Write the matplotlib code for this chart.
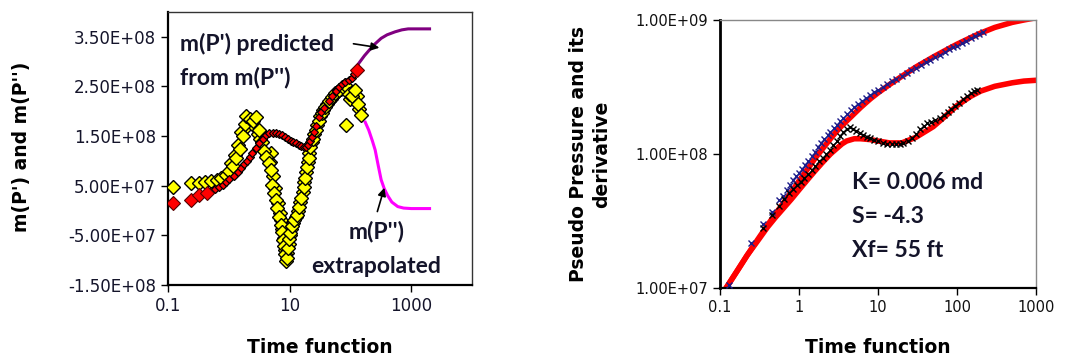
import matplotlib.pyplot as plt

# ---- left panel: m(P') and m(P'') vs time function ----
t_dp = [0.12, 0.24, 0.32, 0.40, 0.50, 0.63, 0.75, 0.9, 1.0, 1.15, 1.3, 1.5, 1.7,
        1.85, 1.95, 2.2, 2.5, 2.8, 3.1, 3.5, 3.8, 4.1, 4.5, 4.9, 5.2, 5.6, 5.9,
        6.3, 6.7, 7.1, 7.5, 7.8, 8.1, 8.4, 8.7, 9.0, 9.4, 9.7, 10.3, 11, 12, 13,
        14.3, 15.5, 17.1, 18, 19.3, 20.5, 22, 24, 26.7, 30, 34, 38, 44, 50, 56,
        65, 75, 82, 85, 95, 105, 120, 135, 150]
m_dp = [0.48, 0.56, 0.56, 0.57, 0.59, 0.62, 0.66, 0.72, 0.80, 0.90, 1.05, 1.25,
        1.50, 1.75, 1.90, 1.85, 1.80, 1.88, 1.62, 1.38, 1.20, 1.08, 0.95, 0.82,
        0.52, 0.35, 0.22, 0.05, -0.12, -0.30, -0.44, -0.60, -0.72, -0.88, -1.02,
        -0.95, -0.75, -0.58, -0.45, -0.32, -0.20, -0.08, 0.08, 0.25, 0.48, 0.65,
        0.88, 1.05, 1.28, 1.45, 1.62, 1.80, 1.96, 2.08, 2.20, 2.28, 2.36, 2.42,
        2.48, 2.52, 1.72, 2.35, 2.30, 2.42, 2.15, 1.92]
# repeat readings scattered around the main m(P'') trend
t_dp2 = [1.1, 1.25, 1.4, 1.6, 2.0, 2.3, 2.6, 3.0, 3.3, 4.3, 4.7, 5.0, 5.4, 5.8,
         6.5, 6.9, 7.3, 7.6, 8.0, 8.5, 9.2, 9.6, 10, 10.7, 11.5, 12.5, 13.5,
         14.8, 16.3, 17.5, 18.6, 20, 21.2, 23, 25, 28, 32, 36, 41, 47, 53, 60,
         70, 100, 110, 128, 140]
m_dp2 = [0.95, 1.12, 1.32, 1.58, 1.70, 1.78, 1.70, 1.55, 1.45, 1.12, 0.98, 1.15,
         0.70, 0.45, 0.15, -0.05, -0.20, -0.38, -0.55, -0.80, -0.85, -0.68,
         -0.50, -0.38, -0.25, -0.12, 0.00, 0.18, 0.38, 0.58, 0.78, 0.98, 1.15,
         1.38, 1.55, 1.72, 1.90, 2.02, 2.15, 2.25, 2.32, 2.38, 2.45, 2.25, 2.38,
         2.30, 2.05]

t_p_big = [0.12, 0.24, 0.32, 0.43, 127]
m_p_big = [0.16, 0.22, 0.32, 0.36, 2.84]
t_p = [0.5, 0.6, 0.7, 0.8, 0.9, 1.0, 1.2, 1.4, 1.6, 1.8, 2.0, 2.2, 2.44, 2.8,
       3.15, 3.6, 4.1, 4.6, 5.3, 6.0, 6.7, 7.5, 8.5, 9.5, 10.5, 11.5, 12.6, 14,
       15.5, 17, 18.4, 20, 21.5, 23, 25, 27, 30, 33, 37, 44, 50, 57, 64, 72, 82,
       93, 105, 115]
m_p = [0.40, 0.43, 0.47, 0.52, 0.57, 0.63, 0.70, 0.78, 0.85, 0.93, 1.00, 1.07,
       1.16, 1.27, 1.36, 1.45, 1.52, 1.56, 1.57, 1.56, 1.54, 1.52, 1.48, 1.44,
       1.40, 1.38, 1.36, 1.33, 1.30, 1.28, 1.28, 1.32, 1.40, 1.48, 1.58, 1.70,
       1.88, 1.98, 2.06, 2.20, 2.30, 2.40, 2.48, 2.54, 2.58, 2.62, 2.68, 2.75]

t_pred = [127, 136, 170, 210, 255, 320, 400, 540, 700, 890, 1200, 1600, 2000]
m_pred = [2.84, 2.96, 3.12, 3.25, 3.36, 3.47, 3.54, 3.60, 3.64, 3.66, 3.66, 3.66, 3.66]

t_extr = [175, 200, 230, 255, 285, 320, 360, 410, 480, 600, 750, 1000, 1400, 2000]
m_extr = [1.78, 1.62, 1.40, 1.22, 0.92, 0.62, 0.44, 0.30, 0.17, 0.08, 0.05, 0.04, 0.04, 0.04]

# ---- right panel: pseudo pressure and derivative (log-log) ----
t_mod = [0.09, 0.1, 0.13, 0.17, 0.22, 0.3, 0.4, 0.5, 0.65, 0.8, 1.0, 1.3, 1.6,
         2.0, 2.5, 3.0, 3.5, 4.0, 5.0, 6.0, 8.0, 10, 14, 20, 30, 50, 70, 100,
         150, 200, 300, 500, 700, 1000]
p_mod = [0.75, 0.85, 1.08, 1.38, 1.75, 2.3, 2.95, 3.55, 4.4, 5.2, 6.3, 7.8, 9.3,
         11.0, 13.0, 14.8, 16.3, 17.6, 20.0, 22.2, 25.8, 28.6, 33.0, 38.0, 44.5,
         53.0, 59.0, 66.0, 74.0, 80.0, 88.0, 96.0, 100.0, 104.0]
d_mod = [0.75, 0.85, 1.08, 1.38, 1.75, 2.25, 2.85, 3.35, 4.0, 4.6, 5.4, 6.5, 7.5,
         8.7, 10.0, 11.0, 11.9, 12.5, 13.0, 13.0, 12.8, 12.5, 12.1, 12.1, 13.3,
         16.0, 19.0, 23.0, 27.0, 29.5, 32.0, 34.0, 35.0, 35.5]

t_pd = [0.13, 0.25, 0.35, 0.45, 0.55, 0.62, 0.7, 0.78, 0.85, 0.92, 1.0, 1.1, 1.2,
        1.3, 1.45, 1.6, 1.75, 1.9, 2.1, 2.3, 2.5, 2.75, 3.0, 3.3, 3.6, 4.0, 4.5,
        5.0, 5.6, 6.3, 7.0, 8.0, 9.0, 10, 11.5, 13, 15, 17, 20, 23, 26, 30, 35,
        40, 46, 53, 60, 70, 80, 90, 100, 115, 130, 150, 170, 190, 210]
p_data = [1.05, 2.15, 3.0, 3.7, 4.5, 4.9, 5.4, 5.9, 6.4, 6.8, 7.2, 7.7, 8.3, 8.9,
          9.6, 10.4, 11.2, 12.0, 12.9, 13.8, 14.6, 15.6, 16.5, 17.6, 18.6, 19.8,
          21.2, 22.4, 23.7, 25.0, 26.2, 27.7, 29.0, 30.2, 31.8, 33.2, 35.0, 36.5,
          38.5, 40.3, 42.0, 44.0, 46.3, 48.3, 50.5, 52.8, 55.0, 57.8, 60.3, 62.5,
          64.5, 67.5, 70.2, 73.5, 76.5, 79.0, 81.5]

t_dd = [0.35, 0.45, 0.55, 0.65, 0.75, 0.85, 0.95, 1.05, 1.15, 1.3, 1.45, 1.6, 1.8,
        2.0, 2.2, 2.45, 2.7, 3.0, 3.3, 3.6, 4.0, 4.4, 4.8, 5.3, 5.9, 6.5, 7.2,
        8.0, 9.0, 10, 11.5, 13, 15, 17, 19, 21, 24, 27, 30, 34, 38, 42, 47, 53,
        60, 68, 76, 85, 95, 105, 120, 135, 150, 165, 180]
d_data = [2.8, 3.5, 4.1, 4.6, 5.1, 5.5, 5.9, 6.2, 6.6, 7.1, 7.6, 8.1, 8.8, 9.4,
          10.0, 10.8, 11.6, 12.6, 13.6, 14.6, 15.4, 15.9, 15.4, 14.8, 14.3, 13.9,
          13.5, 13.1, 12.7, 12.4, 12.1, 11.9, 11.8, 11.8, 11.9, 12.0, 12.4, 13.2,
          14.2, 15.3, 16.3, 17.0, 17.3, 17.8, 18.6, 19.6, 20.6, 21.8, 23.0, 24.2,
          25.8, 27.2, 28.4, 29.4, 30.2]

txt = '#14142a'
e8 = 1e8
e7 = 1e7

fig = plt.figure(figsize=(10.67, 3.56), dpi=100)
ax1 = fig.add_axes([0.1575, 0.1994, 0.2849, 0.7669])
ax2 = fig.add_axes([0.6748, 0.191, 0.2962, 0.7528])

# left panel
ax1.plot(t_pred, [v * e8 for v in m_pred], color='#800080', lw=2.2, zorder=2)
ax1.plot(t_extr, [v * e8 for v in m_extr], color='#ff00ff', lw=2.2, zorder=2)
for tt, mm in [(t_dp2, m_dp2), (t_dp, m_dp)]:
    ax1.plot(tt, [v * e8 for v in mm], ls='none', marker='D', ms=7.5,
             mfc='#ffff00', mec='black', mew=1.0, zorder=3)
ax1.plot(t_p, [v * e8 for v in m_p], ls='none', marker='D', ms=4.5,
         mfc='#ff0000', mec='black', mew=0.9, zorder=4)
ax1.plot(t_p_big, [v * e8 for v in m_p_big], ls='none', marker='D', ms=7.5,
         mfc='#ff0000', mec='#550000', mew=0.8, zorder=4)

ax1.set_xscale('log')
ax1.set_xlim(0.1, 10000)
ax1.set_ylim(-1.5e8, 4.0e8)
yt = [-1.5e8, -5e7, 5e7, 1.5e8, 2.5e8, 3.5e8]
ax1.set_yticks(yt, [f'{v:.2E}' for v in yt])
ax1.set_xticks([0.1, 10, 1000], ['0.1', '10', '1000'])
ax1.minorticks_off()
ax1.tick_params(labelsize=12, labelcolor=txt, length=5, width=1, direction='out')
ax1.set_xlabel('Time function', fontsize=13.5, fontweight='bold', labelpad=17)
for s in ['left', 'bottom']:
    ax1.spines[s].set_linewidth(1.6)
for s in ['top', 'right']:
    ax1.spines[s].set_linewidth(1.0)
    ax1.spines[s].set_color('#333333')
fig.text(22 / 1067, 1 - 147 / 356, "m(P') and m(P'')", rotation=90,
         ha='center', va='center', fontsize=13.5, fontweight='bold')

afont = dict(family='Lato', fontweight='bold', fontsize=16.5, color=txt)
ax1.text(0.157, 3.36e8, "m(P') predicted", ha='left', va='center', **afont)
ax1.text(0.157, 2.68e8, "from m(P'')", ha='left', va='center', **afont)
ax1.text(267, -4.2e7, "m(P'')", ha='center', va='center', **afont)
ax1.text(267, -1.12e8, "extrapolated", ha='center', va='center', **afont)
ax1.annotate('', xy=(299, 3.28e8), xytext=(112, 3.36e8),
             arrowprops=dict(arrowstyle='-|>', color='black', lw=1.2,
                             mutation_scale=12, shrinkA=0, shrinkB=0))
ax1.annotate('', xy=(361, 4.6e7), xytext=(277, -2e6),
             arrowprops=dict(arrowstyle='-|>', color='black', lw=1.2,
                             mutation_scale=12, shrinkA=0, shrinkB=0))

# right panel
ax2.plot(t_mod, [v * e7 for v in p_mod], color='#ff0000', lw=4, zorder=2)
ax2.plot(t_mod, [v * e7 for v in d_mod], color='#ff0000', lw=4, zorder=2)
ax2.plot(t_pd, [v * e7 for v in p_data], ls='none', marker='x', ms=5,
         mec='#1c1c8a', mew=1.0, zorder=3)
ax2.plot(t_dd, [v * e7 for v in d_data], ls='none', marker='x', ms=5,
         mec='black', mew=1.0, zorder=3)

ax2.set_xscale('log')
ax2.set_yscale('log')
ax2.set_xlim(0.1, 1000)
ax2.set_ylim(1e7, 1e9)
ax2.set_xticks([0.1, 1, 10, 100, 1000], ['0.1', '1', '10', '100', '1000'])
ax2.set_yticks([1e7, 1e8, 1e9], [f'{v:.2E}' for v in [1e7, 1e8, 1e9]])
ax2.minorticks_off()
ax2.tick_params(labelsize=10.5, labelcolor='#111111', length=5, width=1,
                direction='out')
ax2.set_xlabel('Time function', fontsize=13.5, fontweight='bold', labelpad=17)
ax2.spines['left'].set_linewidth(2)
ax2.spines['bottom'].set_linewidth(1.6)
for s in ['top', 'right']:
    ax2.spines[s].set_linewidth(1.0)
    ax2.spines[s].set_color('#888888')
fig.text(590 / 1067, 1 - 154 / 356, 'Pseudo Pressure and its\nderivative',
         rotation=90, ha='center', va='center', multialignment='center',
         fontsize=13.5, fontweight='bold', linespacing=1.3)

ax2.text(4.69, 6.1e7, 'K= 0.006 md', ha='left', va='center', **afont)
ax2.text(4.69, 3.39e7, 'S= -4.3', ha='left', va='center', **afont)
ax2.text(4.69, 1.92e7, 'Xf= 55 ft', ha='left', va='center', **afont)

fig.savefig('out.png', dpi=100)
